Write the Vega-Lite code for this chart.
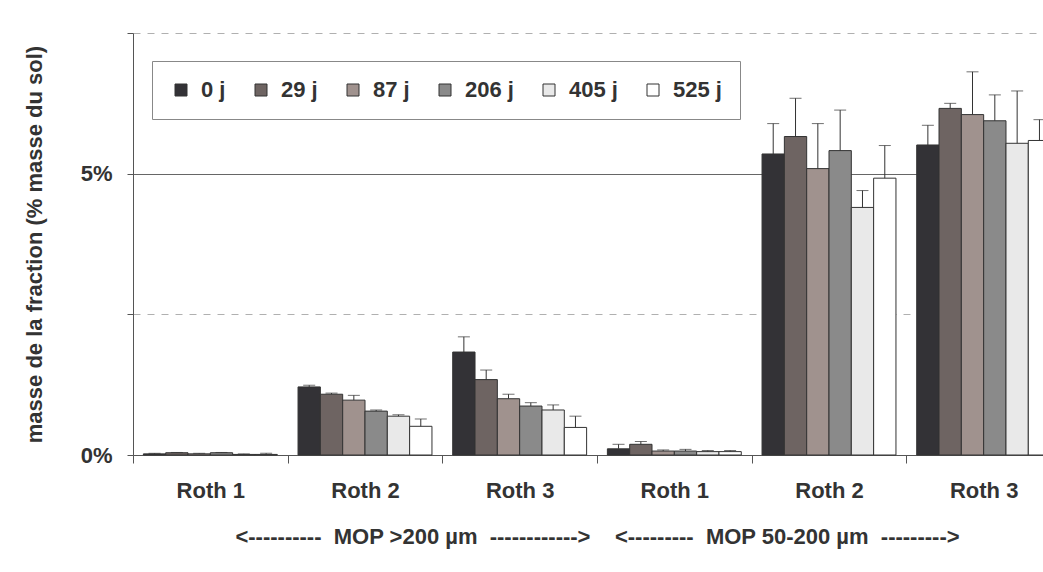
{
  "$schema": "https://vega.github.io/schema/vega-lite/v6.json",
  "autosize": "none",
  "width": 910,
  "height": 422,
  "padding": {"left": 133, "top": 33, "right": 0, "bottom": 117},
  "background": "white",
  "config": {
    "font": "Liberation Sans",
    "view": {"stroke": null},
    "axis": {"labelFont": "Liberation Sans", "titleFont": "Liberation Sans", "labelFontWeight": "bold", "titleFontWeight": "bold", "labelFontSize": 22, "titleFontSize": 22, "labelColor": "#333333", "titleColor": "#333333", "domainColor": "#555555", "tickColor": "#555555"},
    "legend": {"labelFont": "Liberation Sans", "labelFontWeight": "bold", "labelFontSize": 22, "labelColor": "#333333"}
  },
  "data": {
    "values": [
      {"plot": "MOP >200 µm / Roth 1", "day": "0 j", "mass": 0.02, "hi": 0.03},
      {"plot": "MOP >200 µm / Roth 1", "day": "29 j", "mass": 0.04, "hi": 0.045},
      {"plot": "MOP >200 µm / Roth 1", "day": "87 j", "mass": 0.02, "hi": 0.03},
      {"plot": "MOP >200 µm / Roth 1", "day": "206 j", "mass": 0.04, "hi": 0.045},
      {"plot": "MOP >200 µm / Roth 1", "day": "405 j", "mass": 0.01, "hi": 0.02},
      {"plot": "MOP >200 µm / Roth 1", "day": "525 j", "mass": 0.01, "hi": 0.03},
      {"plot": "MOP >200 µm / Roth 2", "day": "0 j", "mass": 1.21, "hi": 1.24},
      {"plot": "MOP >200 µm / Roth 2", "day": "29 j", "mass": 1.08, "hi": 1.10},
      {"plot": "MOP >200 µm / Roth 2", "day": "87 j", "mass": 0.975, "hi": 1.06},
      {"plot": "MOP >200 µm / Roth 2", "day": "206 j", "mass": 0.78, "hi": 0.80},
      {"plot": "MOP >200 µm / Roth 2", "day": "405 j", "mass": 0.69, "hi": 0.715},
      {"plot": "MOP >200 µm / Roth 2", "day": "525 j", "mass": 0.51, "hi": 0.64},
      {"plot": "MOP >200 µm / Roth 3", "day": "0 j", "mass": 1.83, "hi": 2.10},
      {"plot": "MOP >200 µm / Roth 3", "day": "29 j", "mass": 1.34, "hi": 1.51},
      {"plot": "MOP >200 µm / Roth 3", "day": "87 j", "mass": 1.00, "hi": 1.08},
      {"plot": "MOP >200 µm / Roth 3", "day": "206 j", "mass": 0.87, "hi": 0.93},
      {"plot": "MOP >200 µm / Roth 3", "day": "405 j", "mass": 0.80, "hi": 0.89},
      {"plot": "MOP >200 µm / Roth 3", "day": "525 j", "mass": 0.49, "hi": 0.69},
      {"plot": "MOP 50-200 µm / Roth 1", "day": "0 j", "mass": 0.11, "hi": 0.19},
      {"plot": "MOP 50-200 µm / Roth 1", "day": "29 j", "mass": 0.19, "hi": 0.24},
      {"plot": "MOP 50-200 µm / Roth 1", "day": "87 j", "mass": 0.07, "hi": 0.09},
      {"plot": "MOP 50-200 µm / Roth 1", "day": "206 j", "mass": 0.07, "hi": 0.10},
      {"plot": "MOP 50-200 µm / Roth 1", "day": "405 j", "mass": 0.06, "hi": 0.08},
      {"plot": "MOP 50-200 µm / Roth 1", "day": "525 j", "mass": 0.06, "hi": 0.08},
      {"plot": "MOP 50-200 µm / Roth 2", "day": "0 j", "mass": 5.35, "hi": 5.89},
      {"plot": "MOP 50-200 µm / Roth 2", "day": "29 j", "mass": 5.66, "hi": 6.34},
      {"plot": "MOP 50-200 µm / Roth 2", "day": "87 j", "mass": 5.09, "hi": 5.89},
      {"plot": "MOP 50-200 µm / Roth 2", "day": "206 j", "mass": 5.41, "hi": 6.13},
      {"plot": "MOP 50-200 µm / Roth 2", "day": "405 j", "mass": 4.40, "hi": 4.70},
      {"plot": "MOP 50-200 µm / Roth 2", "day": "525 j", "mass": 4.92, "hi": 5.50},
      {"plot": "MOP 50-200 µm / Roth 3", "day": "0 j", "mass": 5.51, "hi": 5.86},
      {"plot": "MOP 50-200 µm / Roth 3", "day": "29 j", "mass": 6.16, "hi": 6.25},
      {"plot": "MOP 50-200 µm / Roth 3", "day": "87 j", "mass": 6.05, "hi": 6.81},
      {"plot": "MOP 50-200 µm / Roth 3", "day": "206 j", "mass": 5.94, "hi": 6.40},
      {"plot": "MOP 50-200 µm / Roth 3", "day": "405 j", "mass": 5.54, "hi": 6.47},
      {"plot": "MOP 50-200 µm / Roth 3", "day": "525 j", "mass": 5.59, "hi": 5.96}
    ]
  },
  "encoding": {
    "x": {
      "field": "plot", "type": "nominal", "sort": null,
      "scale": {"range": [0, 928], "paddingInner": 0, "paddingOuter": 0},
      "axis": {
        "labelAngle": 0, "labelExpr": "split(datum.label, ' / ')[1]",
        "tickBand": "extent", "tickSize": 8, "labelPadding": 17,
        "title": "<----------\u00a0\u00a0MOP >200 µm\u00a0\u00a0------------>\u00a0\u00a0\u00a0\u00a0<---------\u00a0\u00a0MOP 50-200 µm\u00a0\u00a0--------->",
        "titlePadding": 25
      }
    },
    "xOffset": {
      "field": "day", "type": "nominal", "sort": ["0 j", "29 j", "87 j", "206 j", "405 j", "525 j"],
      "scale": {"paddingInner": 0, "paddingOuter": 0.465}
    },
    "y": {
      "field": "mass", "type": "quantitative",
      "scale": {"domain": [0, 7.5], "nice": false},
      "axis": {
        "values": [0, 2.5, 5, 7.5],
        "labelExpr": "datum.value == 0 ? '0%' : datum.value == 5 ? '5%' : ''",
        "tickSize": 6, "labelPadding": 15,
        "title": "masse de la fraction (% masse du sol)",
        "titlePadding": 34,
        "grid": true,
        "gridColor": {"condition": {"test": "datum.value == 5", "value": "#666666"}, "value": "#b0b0b0"},
        "gridDash": {"condition": {"test": "datum.value == 5", "value": []}, "value": [7, 7]}
      }
    }
  },
  "layer": [
    {
      "mark": {"type": "bar", "stroke": "#333333", "strokeWidth": 1},
      "encoding": {
        "fill": {
          "field": "day", "type": "nominal",
          "scale": {"domain": ["0 j", "29 j", "87 j", "206 j", "405 j", "525 j"], "range": ["#333236", "#6e6462", "#a0928e", "#8a8a8a", "#e9e9e9", "#ffffff"]},
          "legend": {
            "title": null, "orient": "none", "direction": "horizontal",
            "legendX": 19, "legendY": 28,
            "symbolType": "square", "symbolSize": 144, "symbolStrokeColor": "#333333", "symbolStrokeWidth": 1,
            "labelOffset": 9, "columnPadding": 24, "padding": 18,
            "strokeColor": "#888888", "fillColor": "white"
          }
        }
      }
    },
    {
      "mark": {"type": "rule", "color": "#333333", "strokeWidth": 1},
      "encoding": {"y2": {"field": "hi"}}
    },
    {
      "mark": {"type": "tick", "color": "#333333", "size": 12, "thickness": 1, "orient": "horizontal"},
      "encoding": {"y": {"field": "hi", "type": "quantitative"}}
    }
  ]
}
